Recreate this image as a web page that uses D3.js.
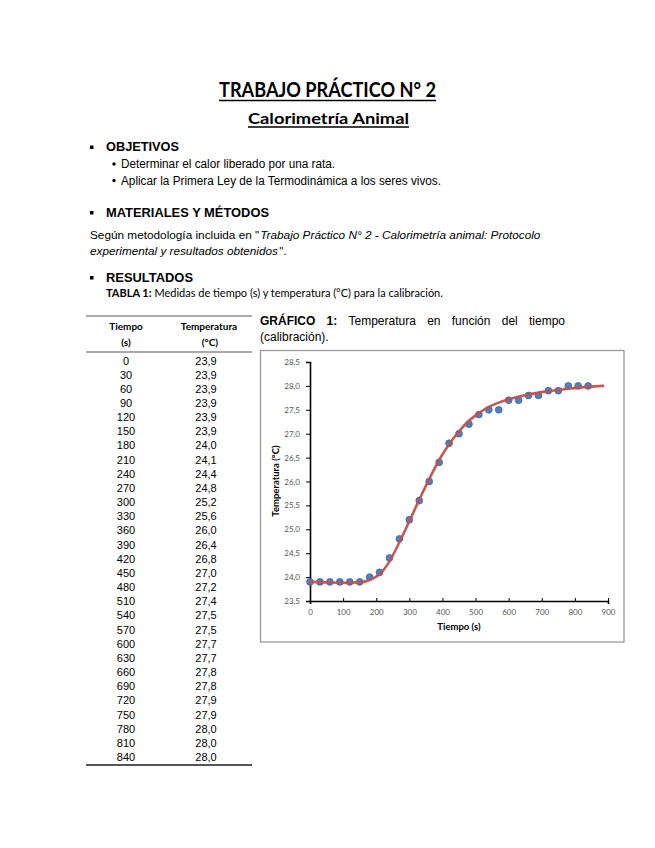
<!DOCTYPE html>
<html>
<head>
<meta charset="utf-8">
<script src="https://cdn.jsdelivr.net/npm/d3@7"></script>
<style>
  html, body { margin: 0; padding: 0; background: #fff; }
  svg { display: block; }
  text { white-space: pre; }
  .arial { font-family: "Liberation Sans", Arial, sans-serif; }
  .cal { font-family: Lato, "Open Sans", sans-serif; }
</style>
</head>
<body>
<div id="page"></div>
<script>
// ---------- data ----------
const tiempo = [0,30,60,90,120,150,180,210,240,270,300,330,360,390,420,450,480,510,540,570,600,630,660,690,720,750,780,810,840];
const temperatura = [23.9,23.9,23.9,23.9,23.9,23.9,24.0,24.1,24.4,24.8,25.2,25.6,26.0,26.4,26.8,27.0,27.2,27.4,27.5,27.5,27.7,27.7,27.8,27.8,27.9,27.9,28.0,28.0,28.0];
// fitted trend curve
const ajusteTiempo = [0,50,100,150,180,210,240,270,300,330,360,390,420,450,480,510,540,570,600,660,720,780,840,885];
const ajusteTemp = [23.90,23.89,23.88,23.89,23.94,24.06,24.33,24.73,25.17,25.62,26.05,26.45,26.78,27.05,27.27,27.43,27.56,27.65,27.72,27.82,27.89,27.94,27.98,28.00];
const xTicks = [0,100,200,300,400,500,600,700,800,900];
const yTicks = [23.5,24.0,24.5,25.0,25.5,26.0,26.5,27.0,27.5,28.0,28.5];
const colHeaders = [["Tiempo","(s)"],["Temperatura","(°C)"]];

const W = 655, H = 848;
const svg = d3.select("#page").append("svg").attr("width", W).attr("height", H);
const comma = v => v.toFixed(1).replace(".", ",");

function txt(x, y, s, cls, size, weight, len, anchor, style) {
  const t = svg.append("text").attr("x", x).attr("y", y).attr("class", cls)
    .attr("font-size", size).attr("font-weight", weight || "normal")
    .attr("fill", "#000").attr("text-anchor", anchor || "start").text(s);
  if (style) t.attr("font-style", style);
  if (len) t.attr("textLength", len).attr("lengthAdjust", "spacingAndGlyphs");
  return t;
}
// a line made of several runs (normal / italic / bold): font size chosen so the line fits a total width
function runs(x0, y, parts, cls, size, total, gapPx) {
  const g = gapPx || 0;
  const nodes = parts.map(p => txt(0, y, p[0], cls, size, p[2] || "normal", null, "start", p[1] || "normal"));
  let w = nodes.map(n => n.node().getComputedTextLength());
  const k = (total - g * (parts.length - 1)) / d3.sum(w);
  nodes.forEach(n => n.attr("font-size", size * k));
  w = nodes.map(n => n.node().getComputedTextLength());
  let cx = x0;
  nodes.forEach((n, i) => { n.attr("x", cx); cx += w[i] + g; });
}

// ---------- headings ----------
txt(219, 97, "TRABAJO PRÁCTICO N° 2", "cal", 20, "bold", 217);
svg.append("line").attr("x1", 219).attr("x2", 436).attr("y1", 100.5).attr("y2", 100.5).attr("stroke", "#000").attr("stroke-width", 1.5);
txt(248, 124, "Calorimetría Animal", "cal", 16, "bold", 161);
svg.append("line").attr("x1", 248).attr("x2", 409).attr("y1", 127).attr("y2", 127).attr("stroke", "#000").attr("stroke-width", 1.3);

function square(y) {
  svg.append("rect").attr("x", 90).attr("y", y).attr("width", 3.5).attr("height", 3.5).attr("fill", "#000");
}
square(145.5);
txt(106, 151, "OBJETIVOS", "arial", 13, "bold", 73);
svg.append("circle").attr("cx", 114).attr("cy", 164).attr("r", 1.7).attr("fill", "#000");
txt(121, 168, "Determinar el calor liberado por una rata.", "arial", 12, "normal", 214);
svg.append("circle").attr("cx", 114).attr("cy", 180.5).attr("r", 1.7).attr("fill", "#000");
txt(121, 184.5, "Aplicar la Primera Ley de la Termodinámica a los seres vivos.", "arial", 12, "normal", 320);

square(211);
txt(106, 217, "MATERIALES Y MÉTODOS", "arial", 13, "bold", 163);
runs(90, 238.5, [["Según metodología incluida en \""], ["Trabajo Práctico N° 2 - Calorimetría animal: Protocolo", "italic"]], "arial", 12, 451, 1);
runs(90, 255, [["experimental y resultados obtenidos", "italic"], ["\"."]], "arial", 12, 197, 1.5);

square(276);
txt(106, 282, "RESULTADOS", "arial", 13, "bold", 87);
runs(106, 297, [["TABLA 1:", "normal", "bold"], [" Medidas de tiempo (s) y temperatura (°C) para la calibración."]], "cal", 10, 337, 0);

// ---------- table ----------
const tableX0 = 86, tableX1 = 252;
const colX = [126, 206];
const rowY = d3.scalePoint().domain(d3.range(tiempo.length)).range([360.5, 757]);
[316, 352].forEach(y => svg.append("line").attr("x1", tableX0).attr("x2", tableX1).attr("y1", y).attr("y2", y).attr("stroke", "#555").attr("stroke-width", 1.2));
svg.append("line").attr("x1", tableX0).attr("x2", tableX1).attr("y1", 765).attr("y2", 765).attr("stroke", "#555").attr("stroke-width", 2);
colHeaders.forEach((h, i) => {
  txt(colX[i] + (i ? 3 : 0), 330, h[0], "cal", 10, "bold", null, "middle");
  txt(colX[i] + (i ? 4 : 0), 346, h[1], "cal", 10, "bold", null, "middle");
});
const rows = svg.append("g").attr("class", "arial").attr("font-size", 11).attr("fill", "#000");
rows.selectAll("text.t").data(tiempo).join("text").attr("class", "t")
  .attr("x", colX[0]).attr("y", (d, i) => rowY(i) + 4).attr("text-anchor", "middle").text(d => d);
rows.selectAll("text.v").data(temperatura).join("text").attr("class", "v")
  .attr("x", colX[1]).attr("y", (d, i) => rowY(i) + 4).attr("text-anchor", "middle").text(d => comma(d));

// ---------- chart caption (justified) ----------
const capWords = [["GRÁFICO", "bold"], ["1:", "bold"], ["Temperatura"], ["en"], ["función"], ["del"], ["tiempo"]];
const capX0 = 260, capX1 = 565;
const capNodes = capWords.map(w => txt(0, 325, w[0], "arial", 12, w[1] || "normal"));
const widths = capNodes.map(n => n.node().getComputedTextLength());
const gap = (capX1 - capX0 - d3.sum(widths)) / (capNodes.length - 1);
let cx = capX0;
capNodes.forEach((n, i) => { n.attr("x", cx); cx += widths[i] + gap; });
txt(260, 341, "(calibración).", "arial", 12, "normal");

// ---------- chart ----------
svg.append("rect").attr("x", 260.5).attr("y", 350.5).attr("width", 363.5).attr("height", 291.5)
  .attr("fill", "#fff").attr("stroke", "#9a9a9a").attr("stroke-width", 1.3);

const x = d3.scaleLinear().domain([0, 900]).range([310, 608]);
const y = d3.scaleLinear().domain([23.5, 28.5]).range([601, 362]);

const gx = svg.append("g").attr("transform", "translate(0,601)")
  .call(d3.axisBottom(x).tickValues(xTicks).tickSize(3).tickPadding(5).tickFormat(d => d));
const gy = svg.append("g").attr("transform", "translate(310,0)")
  .call(d3.axisLeft(y).tickValues(yTicks).tickSize(4).tickPadding(6).tickFormat(comma));
[gx, gy].forEach(g => {
  g.select(".domain").attr("stroke", "#000").attr("stroke-width", 1.6);
  g.selectAll(".tick line").attr("stroke", "#000").attr("stroke-width", 1);
  g.selectAll(".tick text").attr("font-family", "Lato, 'Open Sans', sans-serif").attr("font-size", 8).attr("fill", "#555");
});
gx.selectAll(".tick line").attr("y1", -3).attr("y2", 1);

svg.append("text").attr("x", 459).attr("y", 630).attr("text-anchor", "middle")
  .attr("class", "cal").attr("font-size", 9.5).attr("font-weight", "bold").text("Tiempo (s)");
svg.append("text").attr("transform", "translate(279,481) rotate(-90)").attr("text-anchor", "middle")
  .attr("class", "cal").attr("font-size", 9.5).attr("font-weight", "bold").text("Temperatura (°C)");

// data points
svg.append("g").selectAll("circle").data(tiempo).join("circle")
  .attr("cx", d => x(d)).attr("cy", (d, i) => y(temperatura[i])).attr("r", 3.4)
  .attr("fill", "#4F81BD").attr("stroke", "#3A64A0").attr("stroke-width", 0.8);

// trend line
const line = d3.line().x(d => x(d[0])).y(d => y(d[1])).curve(d3.curveMonotoneX);
svg.append("path").datum(ajusteTiempo.map((t, i) => [t, ajusteTemp[i]]))
  .attr("d", line).attr("fill", "none").attr("stroke", "#C0504D").attr("stroke-width", 2.6)
  .attr("stroke-linecap", "round").attr("opacity", 0.95);
</script>
</body>
</html>
